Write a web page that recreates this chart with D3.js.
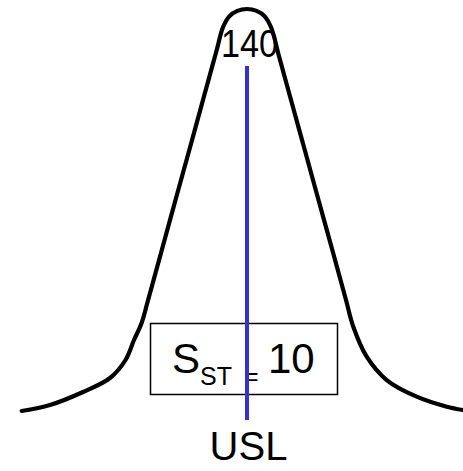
<!DOCTYPE html>
<html>
<head>
<meta charset="utf-8">
<script src="https://cdn.jsdelivr.net/npm/d3@7"></script>
<style>
  html, body { margin: 0; padding: 0; background: #fff; }
  svg { display: block; }
  text { font-family: "Liberation Sans", Arial, sans-serif; fill: #000; }
</style>
</head>
<body>
<svg id="chart" width="463" height="471"></svg>
<script>
// Data (x in process units, y as relative height in %)
const curveX = [89.93, 96.22, 103.56, 109.56, 113.0, 114.89, 116.58, 118.02, 121.07, 124.11, 127.18, 130.22, 133.27, 134.64, 136.07, 137.87, 140.0, 142.13, 143.93, 145.36, 147.16, 149.78, 152.84, 155.89, 158.96, 162.0, 163.62, 166.6, 171.04, 177.71, 184.38, 188.0];
const curveY = [2.19, 3.65, 6.81, 10.22, 14.6, 19.46, 23.6, 29.2, 41.36, 53.53, 65.69, 77.86, 90.02, 95.5, 98.22, 99.54, 100.0, 99.54, 98.22, 95.5, 88.32, 77.86, 65.69, 53.53, 41.36, 29.2, 22.7, 15.4, 9.73, 5.67, 3.24, 2.43];
const meanValue = [140];
const sigmaLabel = ["10"];
const limitLabel = ["USL"];

const svg = d3.select("#chart");
const x = d3.scaleLinear().domain([90, 190]).range([22, 472]);
const y = d3.scaleLinear().domain([0, 100]).range([420, 9]);

const pts = curveX.map((v, i) => [v, curveY[i]]);

// Mean label (slightly condensed, as in the reference)
const mx = x(meanValue[0]) + 2.5;
svg.append("text")
  .attr("transform", `translate(${mx},56.5) scale(0.9,1.02)`)
  .attr("text-anchor", "middle")
  .attr("font-size", 38)
  .text(meanValue[0]);

// Box with sigma label
svg.append("rect")
  .attr("x", 150.5).attr("y", 323.5)
  .attr("width", 187).attr("height", 71)
  .attr("fill", "none").attr("stroke", "#000").attr("stroke-width", 1.5);

const t = svg.append("text").attr("x", 172).attr("y", 373).attr("font-size", 42);
t.append("tspan").text("S");
t.append("tspan").attr("font-size", 25).attr("dy", 12).text("ST");
t.append("tspan").attr("font-size", 25).attr("x", 244).text("=");
t.append("tspan").attr("x", 268).attr("dy", -12).text(sigmaLabel[0]);

// Curve
svg.append("path")
  .datum(pts)
  .attr("fill", "none")
  .attr("stroke", "#000")
  .attr("stroke-width", 4.2)
  .attr("stroke-linecap", "round")
  .attr("stroke-linejoin", "round")
  .attr("d", d3.line().x(d => x(d[0])).y(d => y(d[1])).curve(d3.curveCatmullRom.alpha(0.5)));

// Spec line
svg.append("line")
  .attr("x1", x(meanValue[0])).attr("x2", x(meanValue[0]))
  .attr("y1", 66).attr("y2", 420)
  .attr("stroke", "#3333CC").attr("stroke-width", 4);

// USL label
svg.append("text")
  .attr("x", x(meanValue[0]) + 1.5)
  .attr("y", 460)
  .attr("text-anchor", "middle")
  .attr("font-size", 40)
  .text(limitLabel[0]);
</script>
</body>
</html>
